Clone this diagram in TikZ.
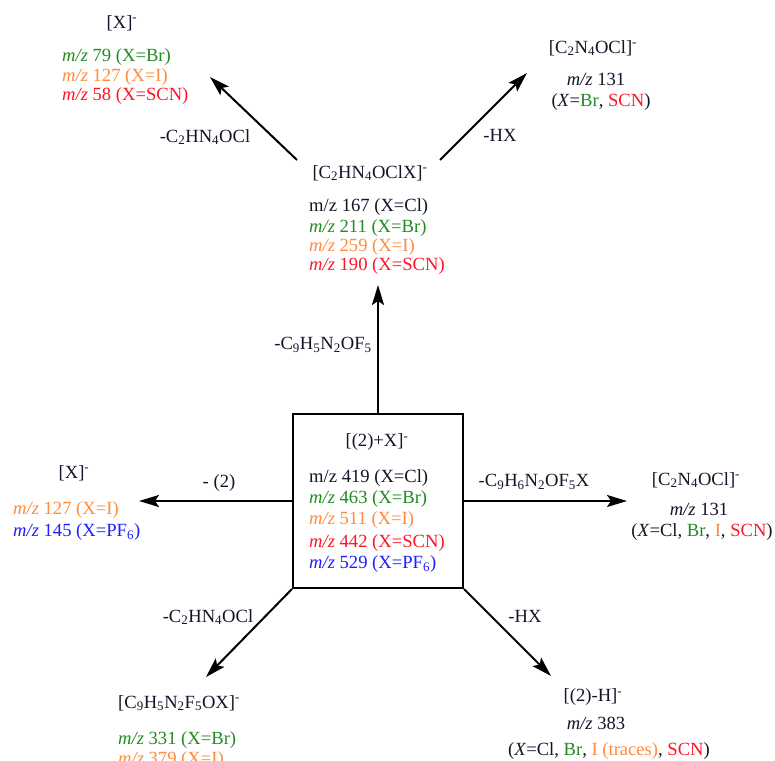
\documentclass[tikz,border=0pt]{standalone}
\usepackage{fontspec}
\setmainfont{Liberation Serif}
\usetikzlibrary{arrows.meta}
\definecolor{ink}{RGB}{20,20,40}
\definecolor{ionBr}{RGB}{34,139,34}
\definecolor{ionI}{RGB}{255,140,60}
\definecolor{ionSCN}{RGB}{255,20,40}
\definecolor{ionPF}{RGB}{30,30,255}
\newcommand{\mz}{\textit{m/z}}
\newcommand{\chg}{\textsuperscript{-}}
\newcommand{\sbs}[1]{\textsubscript{#1}}

\begin{document}
\begin{tikzpicture}[x=1pt,y=-1pt,
    every node/.style={font=\fontsize{18.6}{21.5}\selectfont, text=ink, inner sep=0pt},
    frag/.style={-{Stealth[length=20pt,width=12pt,inset=4pt]}, line width=2pt, draw=black},
    mzline/.style={anchor=west}]
    \useasboundingbox (0,0) rectangle (775,760);
    \clip (0,0) rectangle (775,760);
    % parent ion box
    \node[draw=black, line width=2pt, minimum width=170pt, minimum height=174pt] (parent) at (378,501) {};
    \node (hParent) at (377,442) {[(2)+X]\chg};
    \foreach \y/\c/\t [count=\i] in {478/ink/{m/z 419 (X=Cl)},
                                     499/ionBr/{\mz{} 463 (X=Br)},
                                     520/ionI/{\mz{} 511 (X=I)},
                                     543/ionSCN/{\mz{} 442 (X=SCN)},
                                     564/ionPF/{\mz{} 529 (X=PF\sbs{6})}}
        \node[mzline, text=\c] (parent\i) at (309,\y) {\t};
    % fragment C2HN4OClX
    \node (hFragA) at (370,173) {[C\sbs{2}HN\sbs{4}OClX]\chg};
    \foreach \y/\c/\t [count=\i] in {207/ink/{m/z 167 (X=Cl)},
                                     228/ionBr/{\mz{} 211 (X=Br)},
                                     247/ionI/{\mz{} 259 (X=I)},
                                     266/ionSCN/{\mz{} 190 (X=SCN)}}
        \node[mzline, text=\c] (fragA\i) at (309,\y) {\t};
    % top left halide
    \node (hHalA) at (122,23) {[X]\chg};
    \foreach \y/\c/\t [count=\i] in {57/ionBr/{\mz{} 79 (X=Br)},
                                     77/ionI/{\mz{} 127 (X=I)},
                                     96/ionSCN/{\mz{} 58 (X=SCN)}}
        \node[mzline, text=\c] (halA\i) at (62,\y) {\t};
    % top right
    \node (hFragB) at (593,48) {[C\sbs{2}N\sbs{4}OCl]\chg};
    \node (fragB1) at (596,79) {\mz{} 131};
    \node (fragB2) at (601,102) {(\textit{X}=\textcolor{ionBr}{Br}, \textcolor{ionSCN}{SCN})};
    % left halide
    \node (hHalB) at (74,473) {[X]\chg};
    \node[mzline, text=ionI] (halB1) at (13,510) {\mz{} 127 (X=I)};
    \node[mzline, text=ionPF] (halB2) at (13,532) {\mz{} 145 (X=PF\sbs{6})};
    % right
    \node (hFragC) at (696,480) {[C\sbs{2}N\sbs{4}OCl]\chg};
    \node (fragC1) at (699,509) {\mz{} 131};
    \node (fragC2) at (702,532) {(\textit{X}=Cl, \textcolor{ionBr}{Br}, \textcolor{ionI}{I}, \textcolor{ionSCN}{SCN})};
    % bottom left
    \node[anchor=west] (hFragD) at (118,703) {[C\sbs{9}H\sbs{5}N\sbs{2}F\sbs{5}OX]\chg};
    \node[mzline, text=ionBr] (fragD1) at (118,740) {\mz{} 331 (X=Br)};
    \node[mzline, text=ionI] (fragD2) at (118,760) {\mz{} 379 (X=I)};
    % bottom right
    \node (hFragE) at (593,697) {[(2)-H]\chg};
    \node (fragE1) at (596,723) {\mz{} 383};
    \node (fragE2) at (609,751) {(\textit{X}=Cl, \textcolor{ionBr}{Br}, \textcolor{ionI}{I (traces)}, \textcolor{ionSCN}{SCN})};
    % arrows
    \coordinate (tailA) at (297,160);
    \coordinate (tailB) at (440,160);
    \coordinate (tipA) at (210,77);
    \coordinate (tipB) at (527,73);
    \coordinate (tipUp) at (378,285);
    \coordinate (tipL) at (139,501);
    \coordinate (tipR) at (627,501);
    \coordinate (tipBL) at (206,677);
    \coordinate (tipBR) at (551,676);
    \draw[frag] (tailA) -- (tipA);
    \draw[frag] (tailB) -- (tipB);
    \draw[frag] (parent.north) -- (tipUp);
    \draw[frag] (parent.west) -- (tipL);
    \draw[frag] (parent.east) -- (tipR);
    \draw[frag] (parent.south west) -- (tipBL);
    \draw[frag] (parent.south east) -- (tipBR);
    % losses
    \node (lossA) at (205,137) {-C\sbs{2}HN\sbs{4}OCl};
    \node (lossB) at (500,135) {-HX};
    \node (lossUp) at (323,345) {-C\sbs{9}H\sbs{5}N\sbs{2}OF\sbs{5}};
    \node (lossL) at (219,483) {- (2)};
    \node (lossR) at (534,482) {-C\sbs{9}H\sbs{6}N\sbs{2}OF\sbs{5}X};
    \node (lossBL) at (208,617) {-C\sbs{2}HN\sbs{4}OCl};
    \node (lossBR) at (525,616) {-HX};
\end{tikzpicture}
\end{document}
